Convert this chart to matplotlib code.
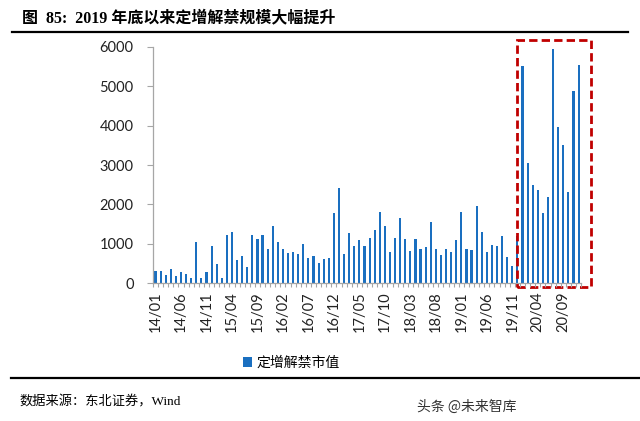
import numpy as np
import pandas as pd
import matplotlib
matplotlib.use('Agg')
import matplotlib.pyplot as plt
from matplotlib.patches import Rectangle
from matplotlib.lines import Line2D

plt.rcParams['font.family'] = ['Lato', 'Noto Sans CJK SC', 'DejaVu Sans']

# 月份 2014/01 - 2020/12
months = pd.date_range('2014-01-01', '2020-12-01', freq='MS')
month_labels = [d.strftime('%y/%m') for d in months]

# 定增解禁市值（亿元）
values = [
    322, 322, 212, 355, 195, 290, 237, 127, 1049, 127, 290, 948,
    491, 127, 1218, 1303, 592, 702, 423, 1235, 1117, 1227, 871, 1464,
    1041, 880, 761, 787, 753, 990, 643, 685, 525, 617, 651, 1785,
    2420, 753, 1269, 939, 1109, 948, 1142, 1345, 1810, 1447, 787, 1160,
    1667, 1134, 820, 1117, 871, 914, 1566, 863, 728, 863, 795, 1100,
    1810, 871, 838, 1971, 1294, 795, 981, 956, 1193, 660, 448, 1200,
    5499, 3046, 2496, 2377, 1777, 2200, 5948, 3976, 3503, 2327, 4881, 5541,
]
label_step = 5
yticks = [0, 1000, 2000, 3000, 4000, 5000, 6000]
series_name = '定增解禁市值'
title = '图  85:  2019 年底以来定增解禁规模大幅提升'
source = '数据来源：东北证券，Wind'
watermark = '头条 @未来智库'

bar_color = '#1a6fc0'
axis_color = '#a6a6a6'

fig = plt.figure(figsize=(6.4, 4.21), dpi=100)
ax = fig.add_axes([0.239, 0.327, 0.669, 0.562])

x = np.arange(len(values))
ax.bar(x, values, width=0.42, color=bar_color, label=series_name)

ax.set_xlim(-0.5, len(values) - 0.5)
ax.set_ylim(0, 6000)
ax.set_yticks(yticks)
ax.set_yticklabels([str(v) for v in yticks], fontsize=10.5, color='#222222')

major = x[::label_step]
ax.set_xticks(major)
ax.set_xticklabels([month_labels[i] for i in major], rotation=90,
                   fontsize=10.5, color='#222222')
ax.tick_params(axis='x', which='major', length=0, pad=6)
ax.set_xticks(np.arange(-0.5, len(values), 1), minor=True)
ax.tick_params(axis='x', which='minor', length=3, color=axis_color, width=0.8)
ax.tick_params(axis='y', length=4, color=axis_color, width=0.8, pad=10)

for s in ['top', 'right']:
    ax.spines[s].set_visible(False)
for s in ['left', 'bottom']:
    ax.spines[s].set_color(axis_color)
    ax.spines[s].set_linewidth(0.9)

# 红色虚线框
rect = Rectangle((71.0, -100), 14.5, 6275, fill=False, edgecolor='#c00000',
                 linestyle=(0, (3, 1.5)), linewidth=2, clip_on=False)
ax.add_patch(rect)

# 图例
fig.legend(loc='center', bbox_to_anchor=(0.455, 0.138), frameon=False,
           handlelength=0.7, handleheight=0.7, handletextpad=0.3,
           prop={'family': ['Liberation Serif', 'Noto Sans CJK SC'], 'size': 10})

# 标题与横线
fig.text(0.034, 0.957, title, fontsize=11.5, fontweight='bold',
         family=['Liberation Serif', 'Noto Sans CJK SC'], va='center', ha='left')
fig.add_artist(Line2D([0.019, 0.981], [0.925, 0.925], color='black', linewidth=1.6))
fig.add_artist(Line2D([0.017, 1.0], [0.102, 0.102], color='black', linewidth=1.6))

fig.text(0.03, 0.045, source, fontsize=9.5,
         family=['Liberation Serif', 'Noto Sans CJK SC'], va='center', ha='left')
fig.text(0.652, 0.033, watermark, fontsize=10, color='#333333',
         family=['Noto Sans CJK SC'], va='center', ha='left')

fig.savefig('out.png', dpi=100, facecolor='white')
